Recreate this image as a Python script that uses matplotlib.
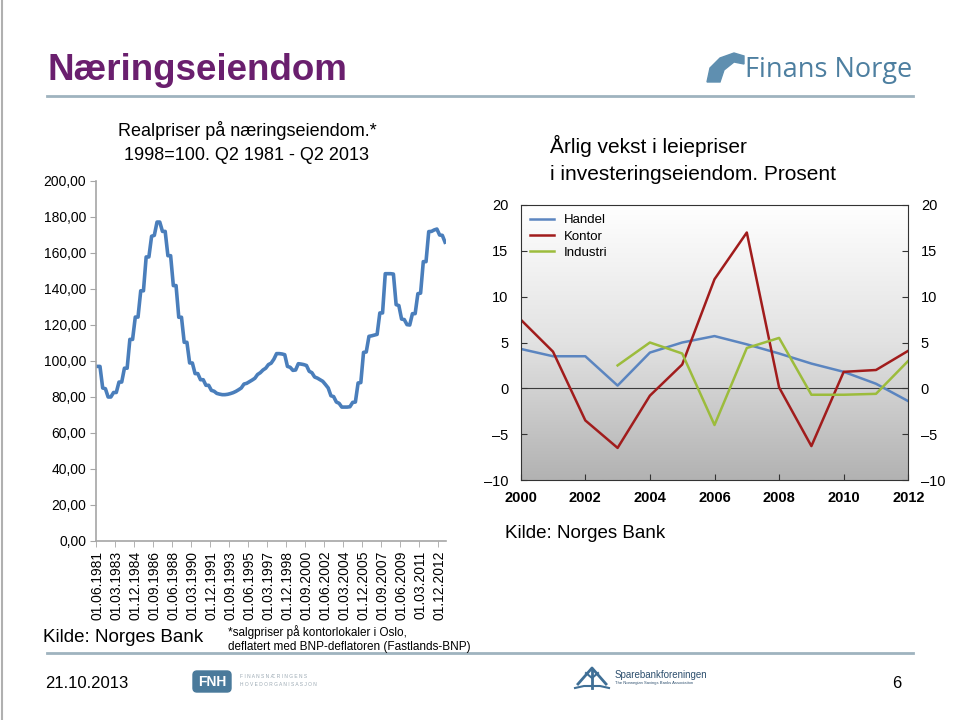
import numpy as np
import matplotlib
matplotlib.use("Agg")
import matplotlib.pyplot as plt
from matplotlib.colors import LinearSegmentedColormap
from matplotlib.patches import FancyBboxPatch, Polygon

plt.rcParams['font.family'] = ['Liberation Sans', 'DejaVu Sans']
NARROW = ['Liberation Sans Narrow', 'Liberation Sans', 'DejaVu Sans']

# Realpriser, kvartalsvis Q2 1981 - Q2 2013 (1998=100)
realpris = [
    97, 97, 85, 84.6, 80, 80, 82.5, 82.5, 88.3, 88.3,
    96, 96, 112, 112, 124.4, 124.4, 139, 139, 157.8, 157.8,
    169.3, 169.8, 177.2, 177.2, 172, 172, 158.5, 158.5, 141.9, 141.9,
    124.3, 124.3, 110.4, 110.4, 98.9, 98.9, 93, 93, 89.6, 89.6,
    86.5, 86.5, 83.7, 83.2, 82, 81.6, 81.3, 81.3, 81.5, 81.9,
    82.4, 83.1, 84, 85, 87.2, 87.6, 88.5, 89.4, 90.4, 92.5,
    93.5, 95, 96, 98, 98.8, 101, 104.1, 104.1, 103.9, 103.5,
    97, 96.5, 94.8, 95, 98.5, 98.3, 98, 97.5, 94.3, 93.5,
    91.1, 90.5, 89.6, 88.7, 86.9, 85, 80.7, 80.2, 77.2, 76.5,
    74.4, 74.4, 74.4, 74.6, 77, 77.2, 87.8, 88, 104.8, 105,
    113.7, 114, 114.4, 114.8, 126.7, 126.7, 148.5, 148.5, 148.5, 148.3,
    131.3, 130.8, 123.3, 123, 120.2, 120, 126.3, 126.3, 137.4, 137.7,
    155.2, 155.2, 171.9, 172, 172.8, 173.3, 170, 169.8, 166,
]
dato_labels = ["01.06.1981", "01.03.1983", "01.12.1984", "01.09.1986", "01.06.1988",
               "01.03.1990", "01.12.1991", "01.09.1993", "01.06.1995", "01.03.1997",
               "01.12.1998", "01.09.2000", "01.06.2002", "01.03.2004", "01.12.2005",
               "01.09.2007", "01.06.2009", "01.03.2011", "01.12.2012"]
y_labels = ["0,00", "20,00", "40,00", "60,00", "80,00", "100,00",
            "120,00", "140,00", "160,00", "180,00", "200,00"]

# Årlig vekst i leiepriser, prosent
aar = [2000, 2001, 2002, 2003, 2004, 2005, 2006, 2007, 2008, 2009, 2010, 2011, 2012]
handel = [4.3, 3.5, 3.5, 0.3, 3.9, 5.0, 5.7, 4.8, 3.8, 2.7, 1.8, 0.5, -1.4]
kontor = [7.5, 4.0, -3.5, -6.5, -0.8, 2.6, 11.9, 17.0, 0.1, -6.3, 1.8, 2.0, 4.1]
industri_aar = [2003, 2004, 2005, 2006, 2007, 2008, 2009, 2010, 2011, 2012]
industri = [2.5, 5.0, 3.8, -4.0, 4.4, 5.5, -0.7, -0.7, -0.6, 3.0]

W, H = 960, 720
fig = plt.figure(figsize=(9.6, 7.2), dpi=100)


def box(x0, y0, x1, y1):
    # pikselkoordinater (fra topp) -> figurbrøk
    return [x0 / W, 1 - y1 / H, (x1 - x0) / W, (y1 - y0) / H]


# bakgrunnslag for tekst og logoer i piksler
bg = fig.add_axes([0, 0, 1, 1])
bg.set_xlim(0, W)
bg.set_ylim(H, 0)
bg.axis("off")

bg.plot([2, 2], [0, H], color="#b0b0b0", lw=1.5)
bg.text(47, 70, "Næringseiendom", fontsize=26.5, fontweight="bold",
        color="#6a1f6e", va="center", ha="left")
bg.plot([47, 913], [96, 96], color="#9fb3bf", lw=2)
bg.plot([47, 913], [653, 653], color="#9fb3bf", lw=2)

# Finans Norge logo
bg.add_patch(Polygon([(707, 82), (710, 68), (720, 58), (734, 53), (744, 56),
                      (744, 64), (734, 62), (724, 70), (720, 82)],
                     closed=True, color="#5f8fb0"))
bg.text(745, 70, "Finans Norge", fontsize=19.5, color="#4d7fa0",
        va="center", ha="left", family=['Open Sans', 'DejaVu Sans'])

bg.text(247, 130, "Realpriser på næringseiendom.*", fontsize=13,
        ha="center", va="center")
bg.text(247, 155, "1998=100. Q2 1981 - Q2 2013", fontsize=13,
        ha="center", va="center")
bg.text(550, 146, "Årlig vekst i leiepriser", fontsize=15, ha="left", va="center")
bg.text(550, 174, "i investeringseiendom. Prosent", fontsize=15, ha="left", va="center")
bg.text(505, 533, "Kilde: Norges Bank", fontsize=13.5, ha="left", va="center")
bg.text(43, 638, "Kilde: Norges Bank", fontsize=13.5, ha="left", va="center")
bg.text(228, 632, "*salgpriser på kontorlokaler i Oslo,", fontsize=8.5,
        ha="left", va="center")
bg.text(228, 647, "deflatert med BNP-deflatoren (Fastlands-BNP)", fontsize=8.5,
        ha="left", va="center")
bg.text(45, 684, "21.10.2013", fontsize=12, ha="left", va="center")
bg.text(897, 684, "6", fontsize=12, ha="center", va="center")

# FNH logo
bg.add_patch(FancyBboxPatch((193, 671), 38, 21, boxstyle="round,pad=0,rounding_size=4",
                            color="#4a7a9b"))
bg.text(212, 682, "FNH", fontsize=10, fontweight="bold", color="white",
        ha="center", va="center")
bg.text(240, 677, "F I N A N S N Æ R I N G E N S", fontsize=3.5, color="#9aa8b2",
        ha="left", va="center")
bg.text(240, 685, "H O V E D O R G A N I S A S J O N", fontsize=3.5, color="#9aa8b2",
        ha="left", va="center")

# Sparebankforeningen logo
blue = "#3f6f96"
bg.plot([578, 592, 606], [684, 668, 684], color=blue, lw=2)
bg.plot([592, 592], [670, 688], color=blue, lw=2)
bg.plot([586, 592, 598], [673, 678, 673], color=blue, lw=1.5)
bg.plot([575, 584, 600, 609], [688, 686, 686, 688], color=blue, lw=1.5)
bg.text(615, 675, "Sparebankforeningen", fontsize=7, color="#2d4f6e",
        ha="left", va="center")
bg.text(615, 683, "The Norwegian Savings Banks Association", fontsize=3,
        color="#2d4f6e", ha="left", va="center")

# venstre figur: realpriser
ax1 = fig.add_axes(box(95.9, 181, 446.4, 541))
x = np.arange(len(realpris))
ax1.plot(x, realpris, color="#4a7ebb", lw=2.6, solid_joinstyle="round")
ax1.set_xlim(-0.5, len(realpris) - 0.5)
ax1.set_ylim(0, 200)
ax1.set_yticks(np.arange(0, 201, 20))
ax1.set_yticklabels(y_labels, fontsize=10)
ax1.set_xticks(np.arange(0, len(realpris), 7))
ax1.set_xticklabels(dato_labels, rotation=90, fontsize=10)
ax1.set_xticks(np.arange(-0.5, len(realpris), 7), minor=True)
ax1.tick_params(axis="x", which="major", length=0, pad=7)
ax1.tick_params(axis="x", which="minor", length=4, color="#a6a6a6")
ax1.tick_params(axis="y", length=4, color="#a6a6a6", pad=3)
for s in ["top", "right"]:
    ax1.spines[s].set_visible(False)
for s in ["left", "bottom"]:
    ax1.spines[s].set_color("#a6a6a6")
    ax1.spines[s].set_linewidth(1.2)
ax1.patch.set_alpha(0)

# høyre figur: vekst i leiepriser
ax2 = fig.add_axes(box(520.7, 205, 908.3, 480))
grad = LinearSegmentedColormap.from_list("grad", ["#ffffff", "#e2e2e2", "#b2b2b2"])
ax2.imshow(np.linspace(0, 1, 256).reshape(-1, 1), extent=[2000, 2012, -10, 20],
           aspect="auto", cmap=grad, zorder=0)
ax2.axhline(0, color="#3a3a3a", lw=0.8, zorder=1)
ax2.plot(aar, handel, color="#5b85c0", lw=1.8, label="Handel", zorder=2)
ax2.plot(aar, kontor, color="#a11c1c", lw=1.8, label="Kontor", zorder=2)
ax2.plot(industri_aar, industri, color="#9cbc3c", lw=1.8, label="Industri", zorder=2)
ax2.set_xlim(2000, 2012)
ax2.set_ylim(-10, 20)
ax2.set_xticks(np.arange(2000, 2013, 2))
ax2.set_xticklabels([str(a) for a in range(2000, 2013, 2)], fontsize=10.5,
                    fontweight="bold", family=NARROW)
yt = np.arange(-10, 21, 5)
ax2.set_yticks(yt)
ax2.set_yticklabels([("–" + str(-v)) if v < 0 else str(v) for v in yt],
                    fontsize=10.5, family=NARROW)
ax2.tick_params(axis="y", direction="in", length=4, right=True, labelright=True,
                color="#333333", pad=9)
ax2.tick_params(axis="x", direction="in", length=4, color="#333333", pad=8)
for s in ax2.spines.values():
    s.set_color("#333333")
    s.set_linewidth(0.8)
leg = ax2.legend(loc="upper left", frameon=False, handlelength=1.8,
                 prop={'family': NARROW, 'size': 9.5}, borderaxespad=0.3,
                 labelspacing=0.3)

fig.savefig("out.png", dpi=100)
